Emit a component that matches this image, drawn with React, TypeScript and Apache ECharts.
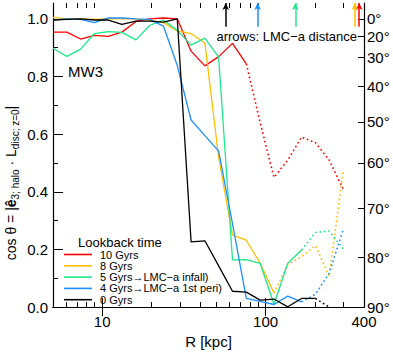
import React, { useEffect, useRef } from 'react';
import * as echarts from 'echarts';

// Radial bins [kpc]
const R_KPC = [5.0, 6.07, 7.38, 8.96, 10.9, 13.2, 16.1, 19.5, 23.7, 28.8, 35.0, 42.5, 51.6, 62.7, 76.2, 92.6, 112.5, 136.6, 166, 202, 245, 298];

// cos(theta) per lookback time
const COS_10GYR = [0.954, 0.954, 0.930, 0.943, 0.939, 0.954, 0.991, 1.0, 1.003, 1.0, 0.888, 0.837, 0.869, 0.915, 0.844, 0.64, 0.45, 0.51, 0.59, 0.57, 0.51, 0.41];
const COS_8GYR = [1.005, 1.0, 1.0, 0.998, 1.0, 1.0, 1.0, 0.995, 0.987, 0.958, 0.949, 0.916, 0.52, 0.25, 0.232, 0.152, 0.049, 0.148, 0.175, 0.213, 0.106, 0.473];
const COS_5GYR = [0.898, 0.870, 0.895, 0.949, 0.956, 0.953, 0.927, 0.977, 0.996, 0.96, 0.909, 0.933, 0.867, 0.164, 0.165, 0.152, 0.01, 0.152, 0.198, 0.259, 0.264, 0.202];
const COS_4GYR = [0.996, 1.0, 0.998, 0.987, 1.003, 1.003, 1.0, 0.998, 0.975, 0.838, 0.649, 0.595, 0.541, 0.29, 0.03, 0.02, 0.009, 0.038, 0.018, 0.045, 0.118, 0.267];
const COS_0GYR = [0.996, 0.998, 1.0, 0.996, 0.996, 0.981, 0.992, 0.992, 0.989, 1.0, 0.226, 0.23, 0.143, 0.055, 0.052, 0.024, 0.028, 0.001, 0.03, 0.03, 0.0, null];

// index of last solid point (beyond: dotted)
const SOLID_END = [14, 16, 18, 18, 19];

const SERIES_NAMES = ['10 Gyrs', '8 Gyrs', '5 Gyrs→LMC−a infall)', '4 Gyrs→LMC−a 1st peri)', '0 Gyrs'];
const SERIES_COLORS = ['#ff0000', '#ffbf00', '#1ee88c', '#1e8fff', '#000000'];

// LMC-a distance arrows [kpc]
const ARROW_R = [374, 352, 152, 89.3, 57];

// axis ticks
const X_MAJOR = [10, 100];
const X_MINOR = [6, 7, 8, 9, 20, 30, 40, 50, 60, 70, 80, 90, 200, 300, 400];
const X_LABELS = [10, 100, 400];
const Y_MAJOR = [0, 0.2, 0.4, 0.6, 0.8, 1.0];
const Y_MINOR = [0.1, 0.3, 0.5, 0.7, 0.9];
const ANGLE_LABELS = [0, 20, 30, 40, 50, 60, 70, 80, 90];

const FONT = '"Liberation Sans", Arial, Helvetica, sans-serif';

export default function App() {
  const ref = useRef<HTMLDivElement>(null);
  useEffect(() => {
    document.body.style.margin = '0';
    const chart = echarts.init(ref.current!, null, { renderer: 'svg' });
    const lg = (r: number) => Math.log10(r);
    const xMin = lg(5);
    const xMax = lg(400);
    const yMax = 1.055;
    const angleVals = ANGLE_LABELS.map((d) => Math.cos((d * Math.PI) / 180));
    const allVals = [COS_10GYR, COS_8GYR, COS_5GYR, COS_4GYR, COS_0GYR];

    const solidSeries = allVals.map((vals, k) => ({
      type: 'line',
      name: SERIES_NAMES[k],
      xAxisIndex: 0,
      yAxisIndex: 0,
      data: R_KPC.slice(0, SOLID_END[k] + 1).map((r, i) => [lg(r), vals[i]]),
      showSymbol: false,
      symbol: 'none',
      silent: true,
      z: 2 + k,
      lineStyle: { color: SERIES_COLORS[k], width: 1.3 },
      itemStyle: { color: SERIES_COLORS[k] },
      markLine: {
        silent: true,
        symbol: ['none', 'arrow'],
        symbolSize: [5, 7],
        label: { show: false },
        lineStyle: { type: 'solid', width: 1.5, color: SERIES_COLORS[k] },
        data: [[{ coord: [lg(ARROW_R[k]), 0.973] }, { coord: [lg(ARROW_R[k]), yMax] }]],
      },
    }));

    const dottedSeries = allVals.map((vals, k) => ({
      type: 'line',
      name: SERIES_NAMES[k] + ' (outer)',
      xAxisIndex: 0,
      yAxisIndex: 0,
      data: R_KPC.map((r, i) => [lg(r), vals[i]])
        .filter((p, i) => i >= SOLID_END[k] && p[1] !== null),
      showSymbol: false,
      symbol: 'none',
      silent: true,
      z: 2 + k,
      lineStyle: { color: SERIES_COLORS[k], width: 1.6, type: [1.6, 2.8] },
      itemStyle: { color: SERIES_COLORS[k] },
    }));

    const baseX = {
      type: 'value',
      min: xMin,
      max: xMax,
      splitLine: { show: false },
    };
    const baseY = {
      type: 'value',
      min: 0,
      max: yMax,
      splitLine: { show: false },
    };

    chart.setOption({
      animation: false,
      textStyle: { fontFamily: FONT, color: '#000' },
      grid: { left: 53, right: 29, top: 3, bottom: 42, containLabel: false },
      xAxis: [
        {
          ...baseX,
          position: 'bottom',
          axisLine: { show: true, lineStyle: { color: '#000', width: 1.2 } },
          axisTick: { show: true, inside: true, length: 9, customValues: X_MAJOR.map(lg), lineStyle: { color: '#000', width: 1 } },
          axisLabel: {
            show: true,
            customValues: X_LABELS.map(lg),
            formatter: (v: number) => String(Math.round(Math.pow(10, v))),
            fontSize: 15,
            margin: 7,
            color: '#000',
            fontFamily: FONT,
          },
          name: 'R [kpc]',
          nameLocation: 'middle',
          nameGap: 24,
          nameTextStyle: { fontSize: 15, color: '#000', fontFamily: FONT },
        },
        {
          ...baseX,
          position: 'bottom',
          axisLine: { show: false },
          axisTick: { show: true, inside: true, length: 5, customValues: X_MINOR.map(lg), lineStyle: { color: '#000', width: 1 } },
          axisLabel: { show: false },
        },
        {
          ...baseX,
          position: 'top',
          axisLine: { show: true, lineStyle: { color: '#000', width: 1.2 } },
          axisTick: { show: true, inside: true, length: 9, customValues: X_MAJOR.map(lg), lineStyle: { color: '#000', width: 1 } },
          axisLabel: { show: false },
        },
        {
          ...baseX,
          position: 'top',
          axisLine: { show: false },
          axisTick: { show: true, inside: true, length: 5, customValues: X_MINOR.map(lg), lineStyle: { color: '#000', width: 1 } },
          axisLabel: { show: false },
        },
      ],
      yAxis: [
        {
          ...baseY,
          position: 'left',
          axisLine: { show: true, lineStyle: { color: '#000', width: 1.2 } },
          axisTick: { show: true, inside: true, length: 10, customValues: Y_MAJOR, lineStyle: { color: '#000', width: 1 } },
          axisLabel: {
            show: true,
            customValues: Y_MAJOR,
            formatter: (v: number) => v.toFixed(1),
            fontSize: 15,
            margin: 5,
            color: '#000',
            fontFamily: FONT,
          },
        },
        {
          ...baseY,
          position: 'left',
          axisLine: { show: false },
          axisTick: { show: true, inside: true, length: 5, customValues: Y_MINOR, lineStyle: { color: '#000', width: 1 } },
          axisLabel: { show: false },
        },
        {
          ...baseY,
          position: 'right',
          axisLine: { show: true, lineStyle: { color: '#000', width: 1.2 } },
          axisTick: { show: true, inside: true, length: 6, customValues: angleVals, lineStyle: { color: '#000', width: 1 } },
          axisLabel: {
            show: true,
            customValues: angleVals,
            formatter: (v: number) => Math.round((Math.acos(Math.min(1, v)) * 180) / Math.PI) + '°',
            fontSize: 15,
            margin: 3,
            color: '#000',
            fontFamily: FONT,
          },
        },
      ],
      legend: {
        data: SERIES_NAMES.map((n) => ({ name: n, icon: 'path://M0,0L28,0L28,1.6L0,1.6Z' })),
        orient: 'vertical',
        left: 64,
        top: 249,
        padding: 0,
        itemGap: 0.3,
        itemWidth: 28,
        itemHeight: 11,
        selectedMode: false,
        textStyle: { fontSize: 11, lineHeight: 11, color: '#000', fontFamily: FONT, padding: [0, 0, 0, 3] },
      },
      graphic: [
        {
          type: 'text',
          left: 78,
          top: 236,
          style: { text: 'Lookback time', fontSize: 13, fill: '#000', fontFamily: FONT },
          silent: true,
        },
        {
          type: 'text',
          left: 68,
          top: 64,
          style: { text: 'MW3', fontSize: 15, fill: '#000', fontFamily: FONT },
          silent: true,
        },
        {
          type: 'text',
          right: 36,
          top: 30,
          style: { text: 'arrows: LMC−a distance', fontSize: 13, fill: '#000', fontFamily: FONT },
          silent: true,
        },
        {
          type: 'text',
          x: 11,
          y: 183,
          rotation: Math.PI / 2,
          silent: true,
          style: {
            text: '{n|cos θ = |}{h|ê}{s|3; halo}{n| · L}{s|disc; z=0}{n||}',
            align: 'center',
            verticalAlign: 'middle',
            fill: '#000',
            fontFamily: FONT,
            fontSize: 14,
            rich: {
              n: { fontSize: 14, lineHeight: 18, fill: '#000', fontFamily: FONT },
              h: { fontSize: 14, lineHeight: 18, fontWeight: 'bold', fill: '#000', fontFamily: FONT },
              s: { fontSize: 10, lineHeight: 12, verticalAlign: 'bottom', fill: '#000', fontFamily: FONT },
            },
          },
        },
      ],
      series: [...solidSeries, ...dottedSeries],
    });
    return () => chart.dispose();
  }, []);
  return <div ref={ref} style={{ width: 393, height: 354 }} />;
}
